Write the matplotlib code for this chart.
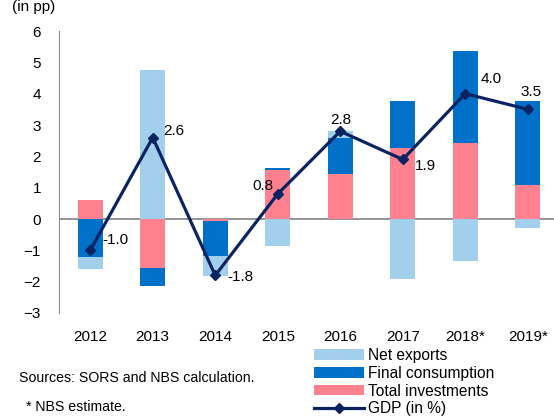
import numpy as np
import matplotlib.pyplot as plt

plt.rcParams['font.family'] = ['Liberation Sans', 'DejaVu Sans']

# data (percentage points)
years = ["2012", "2013", "2014", "2015", "2016", "2017", "2018*", "2019*"]
total_investments = [0.6, -1.55, -0.05, 1.55, 1.45, 2.28, 2.44, 1.1]
final_consumption = [-1.2, -0.6, -1.13, 0.07, 1.15, 1.5, 2.92, 2.68]
net_exports = [-0.4, 4.75, -0.64, -0.85, 0.2, -1.9, -1.34, -0.28]
gdp = [-1.0, 2.6, -1.8, 0.8, 2.8, 1.9, 4.0, 3.5]
gdp_labels = ["-1.0", "2.6", "-1.8", "0.8", "2.8", "1.9", "4.0", "3.5"]

c_nx = "#A2CFEB"
c_fc = "#0070C9"
c_ti = "#FF808E"
c_gdp = "#0B2461"
fs = 11

fig = plt.figure(figsize=(5.54, 4.19), dpi=100)
ax = fig.add_axes([59 / 554, 1 - 313 / 419, 500 / 554, 282 / 419])

x = np.arange(len(years))
w = 0.4

# stack positives upward and negatives downward, order TI, FC, NX
pos = np.zeros(len(years))
neg = np.zeros(len(years))
bars = []
for vals, col, lab in [(total_investments, c_ti, "Total investments"),
                       (final_consumption, c_fc, "Final consumption"),
                       (net_exports, c_nx, "Net exports")]:
    vals = np.array(vals)
    base = np.where(vals >= 0, pos, neg)
    b = ax.bar(x, vals, w, bottom=base, color=col, label=lab, zorder=2)
    bars.append(b)
    pos = pos + np.where(vals >= 0, vals, 0)
    neg = neg + np.where(vals < 0, vals, 0)

line, = ax.plot(x, gdp, color=c_gdp, lw=2.3, marker="D", ms=5,
                label="GDP (in %)", zorder=3)

offsets = [(12, 10, "left"), (10, 7, "left"), (12, -2, "left"), (-4, 8, "right"),
           (1, 11, "center"), (12, -7, "left"), (15, 15, "left"), (3, 17, "center")]
for xi, yi, t, (dx, dy, ha) in zip(x, gdp, gdp_labels, offsets):
    ax.annotate(t, (xi, yi), xytext=(dx, dy), textcoords="offset pixels",
                ha=ha, va="center", fontsize=fs, color="black", zorder=4)

ax.set_xlim(-0.5, 7.5)
ax.set_ylim(-3, 6)
ax.set_yticks(range(-3, 7))
ax.set_xticks(x)
ax.set_xticklabels(years)
ax.tick_params(axis="both", length=0, labelsize=fs)
ax.tick_params(axis="y", pad=13)
ax.tick_params(axis="x", pad=12)

for s in ["top", "right", "bottom"]:
    ax.spines[s].set_visible(False)
ax.spines["left"].set_color("#8C8C8C")
ax.axhline(0, color="#8C8C8C", lw=1.3, zorder=1)

fig.text(12 / 554, 1 - 7 / 419, "(in pp)", fontsize=fs, va="center", ha="left")
fig.text(19 / 554, 1 - 378 / 419, "Sources: SORS and NBS calculation.",
         fontsize=10.2, va="center", ha="left")
fig.text(26 / 554, 1 - 407 / 419, "* NBS estimate.",
         fontsize=10.2, va="center", ha="left")

handles = [bars[2], bars[1], bars[0], line]
labels = ["Net exports", "Final consumption", "Total investments", "GDP (in %)"]
fig.legend(handles, labels, loc="upper left", bbox_to_anchor=(314 / 554, 1 - 348 / 419),
           frameon=False, fontsize=11.2, handlelength=3.2, handleheight=0.65,
           handletextpad=0.25, labelspacing=0.18, borderpad=0, borderaxespad=0)

fig.savefig("out.png", dpi=100)
